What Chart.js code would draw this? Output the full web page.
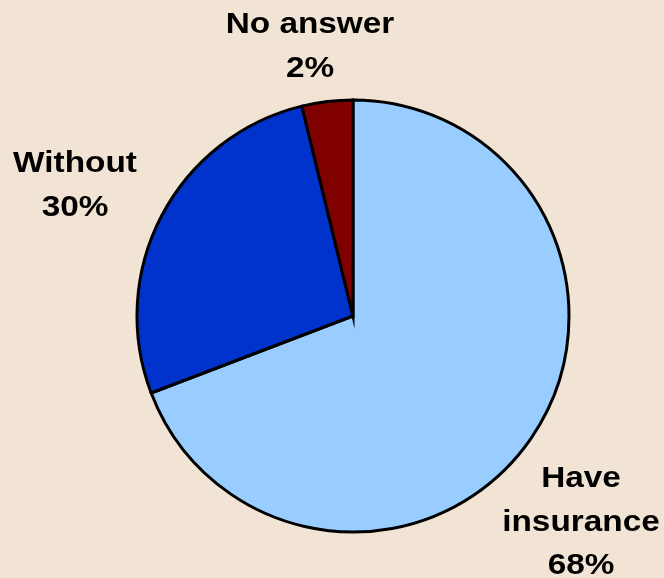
<!DOCTYPE html>
<html>
<head>
<meta charset="utf-8">
<script src="https://cdn.jsdelivr.net/npm/chart.js@4.4.1/dist/chart.umd.min.js"></script>
<style>
  html, body { margin: 0; padding: 0; background: #F2E4D4; }
  canvas { display: block; }
</style>
</head>
<body>
<canvas id="pie" width="664" height="578"></canvas>
<script>
// Slice sizes as drawn (the printed percentages differ slightly from the geometry)
const categories = ['Have insurance', 'Without', 'No answer'];
const shares = [69.2, 27, 3.8];
const labelLines = [['Have', 'insurance', '68%'], ['Without', '30%'], ['No answer', '2%']];

const sliceColors = ['#99CCFF', '#0033CC', '#800000'];

// Label anchors relative to the pie centre: [centre x offset, first baseline offset]
const labelOffsets = [[228, 171], [-278, -144], [-43, -283]];

const labelPlugin = {
  id: 'sliceLabels',
  afterDraw(chart) {
    const arc = chart.getDatasetMeta(0).data[0];
    if (!arc) return;
    const ctx = chart.ctx;
    ctx.save();
    ctx.fillStyle = '#000';
    ctx.font = 'bold 29px "Liberation Sans", Arial, sans-serif';
    ctx.textAlign = 'center';
    ctx.textBaseline = 'alphabetic';
    labelLines.forEach((lines, i) => {
      const [dx, dy] = labelOffsets[i];
      lines.forEach((txt, j) => {
        ctx.save();
        ctx.translate(arc.x + dx, arc.y + dy + j * 43.5);
        ctx.scale(1.15, 1);
        ctx.fillText(txt, 0, 0);
        ctx.restore();
      });
    });
    ctx.restore();
  }
};

new Chart(document.getElementById('pie').getContext('2d'), {
  type: 'pie',
  data: {
    labels: categories,
    datasets: [{
      data: shares,
      backgroundColor: sliceColors,
      borderColor: '#000000',
      borderWidth: 3,
      borderJoinStyle: 'miter'
    }]
  },
  options: {
    responsive: false,
    animation: false,
    radius: 216,
    layout: { padding: { left: 42, right: 0, top: 54, bottom: 0 } },
    plugins: {
      legend: { display: false },
      tooltip: { enabled: false }
    }
  },
  plugins: [labelPlugin]
});
</script>
</body>
</html>
